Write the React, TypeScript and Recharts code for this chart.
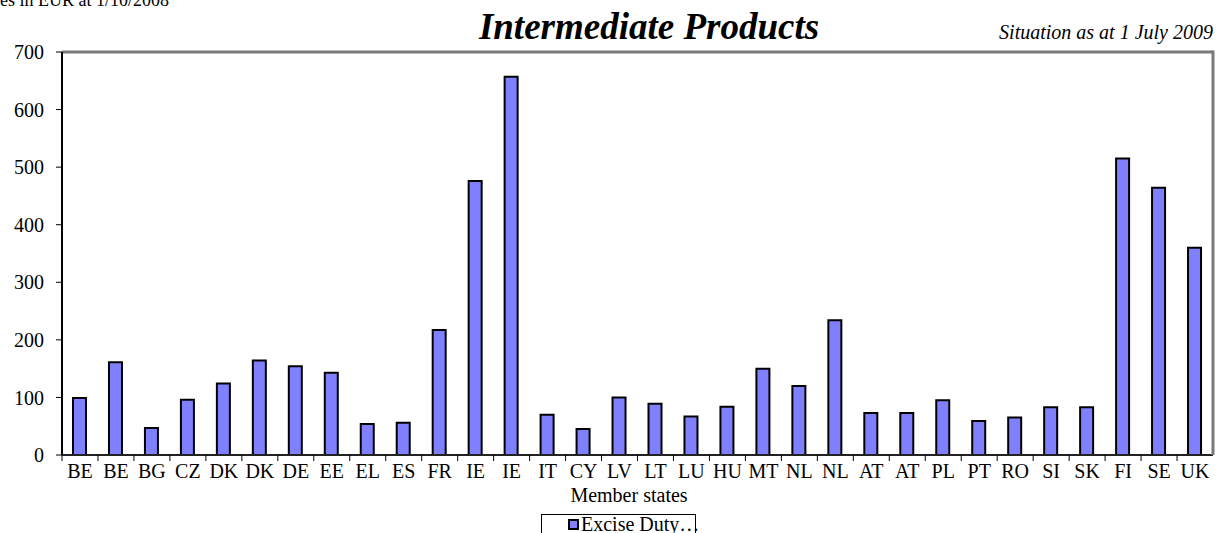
import { BarChart, Bar, XAxis, YAxis, ReferenceLine } from "recharts";

const states = [
  "BE", "BE", "BG", "CZ", "DK", "DK", "DE", "EE", "EL", "ES", "FR", "IE", "IE", "IT", "CY", "LV",
  "LT", "LU", "HU", "MT", "NL", "NL", "AT", "AT", "PL", "PT", "RO", "SI", "SK", "FI", "SE", "UK",
];
const exciseDuty = [
  99, 161, 47, 96, 124, 164, 154, 143, 54, 56, 217, 476, 657, 70, 45, 100,
  89, 67, 84, 150, 120, 234, 73, 73, 95, 59, 65, 83, 83, 515, 464, 360,
];
const yTicks = [0, 100, 200, 300, 400, 500, 600, 700];

// index key keeps the repeated country codes (BE, DK, IE...) as separate bars
const rows = states.map((state, i) => ({ i, state, duty: exciseDuty[i] }));

const W = 1219;
const H = 533;
const LEFT = 62;
const RIGHT = 6;
const TOP = 52;
const XAXIS_H = 78;
const STEP = (W - LEFT - RIGHT) / states.length;
const SERIF = "Liberation Serif";
const FRAME = "#7a7a7a";

// label centred on the category, tick mark on the boundary (Excel style)
function StateTick(props: any) {
  const { x, y, payload } = props;
  return (
    <g>
      <line x1={x - STEP / 2} x2={x - STEP / 2} y1={y} y2={y + 6} stroke="#000" strokeWidth={1} />
      <text x={x} y={y + 23} textAnchor="middle" fontSize={20} fontFamily={SERIF} fill="#000">
        {states[payload.value]}
      </text>
    </g>
  );
}

export default function App() {
  const plotRight = W - RIGHT;
  const plotBottom = H - XAXIS_H;
  return (
    <div style={{ position: "absolute", left: 0, top: 0, width: W, height: H, background: "#fff" }}>
      <BarChart
        width={W}
        height={H}
        data={rows}
        margin={{ top: TOP, right: RIGHT, bottom: 0, left: 0 }}
      >
        <XAxis
          dataKey="i"
          type="category"
          height={XAXIS_H}
          interval={0}
          tickSize={0}
          tickMargin={0}
          tickLine={false}
          axisLine={{ stroke: "#222", strokeWidth: 2 }}
          tick={<StateTick />}
        />
        <YAxis
          width={LEFT}
          domain={[0, 700]}
          ticks={yTicks}
          interval={0}
          tickSize={6}
          tickMargin={12}
          axisLine={{ stroke: "#000", strokeWidth: 2 }}
          tickLine={{ stroke: "#000" }}
          tick={{ fontSize: 20, fontFamily: SERIF, fill: "#000" }}
        />
        {/* grey frame along the top of the plot area */}
        <ReferenceLine y={700} stroke={FRAME} strokeWidth={3} />
        <Bar
          dataKey="duty"
          name="Excise Duty"
          fill="#8080FF"
          stroke="#000"
          strokeWidth={2}
          barSize={13}
          isAnimationActive={false}
        />
      </BarChart>

      <svg
        width={W}
        height={H}
        style={{ position: "absolute", left: 0, top: 0, pointerEvents: "none" }}
      >
        {/* right edge of the plot frame */}
        <rect x={plotRight - 1.5} y={TOP - 1.5} width={3} height={plotBottom - TOP + 1.5} fill={FRAME} />

        <text x={-25} y={6} fontSize={18} fontFamily={SERIF} fill="#000">
          Rates in EUR at 1/10/2008
        </text>
        <text x={649} y={39} fontSize={37} fontFamily={SERIF} fontWeight="bold" fontStyle="italic" textAnchor="middle" fill="#000">
          Intermediate Products
        </text>
        <text x={1213} y={39} fontSize={20} fontFamily={SERIF} fontStyle="italic" textAnchor="end" fill="#000">
          Situation as at 1 July 2009
        </text>
        <text x={629} y={502} fontSize={20} fontFamily={SERIF} textAnchor="middle" fill="#000">
          Member states
        </text>
        <rect x={541.5} y={514.5} width={154} height={30} fill="#fff" stroke="#000" strokeWidth={1} />
        <rect x={569} y={520} width={9} height={9} fill="#8080FF" stroke="#000" strokeWidth={2} />
        <text x={581} y={531} fontSize={20} fontFamily={SERIF} fill="#000">
          Excise Duty…
        </text>
      </svg>
    </div>
  );
}
